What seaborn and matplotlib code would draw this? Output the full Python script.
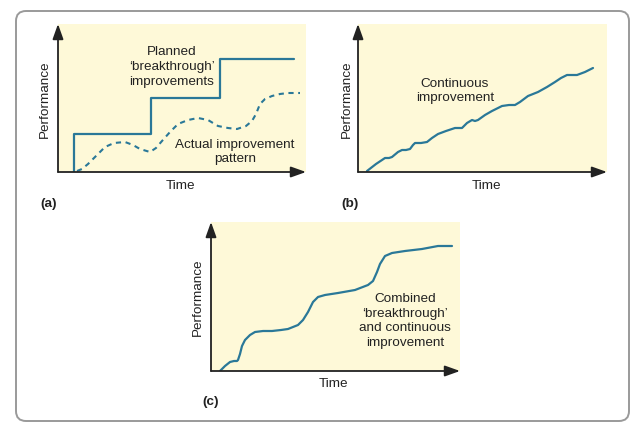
import matplotlib
matplotlib.use("Agg")
import matplotlib.pyplot as plt
from matplotlib.patches import FancyBboxPatch
import seaborn as sns

# ---------------- data ----------------
# (a) planned breakthrough steps
planned_time = [16, 16, 93, 162, 236]
planned_perf = [0, 38, 74, 113, 113]
# (a) actual improvement pattern
actual_time = [19, 24, 30, 38, 47, 56, 67, 75, 82, 92, 98, 104, 112, 120, 130, 140,
               150, 160, 170, 179, 188, 194, 198, 202, 207, 214, 222, 230, 242]
actual_perf = [1, 3, 8, 16, 25, 29, 30, 27, 23, 20, 24, 31, 40, 48, 52, 54,
               52, 46, 44, 43, 46, 51, 58, 68, 73, 76, 78, 79, 79]
# (b) continuous improvement
cont_time = [9, 18, 24, 27, 31, 34, 40, 44, 48, 52, 55, 57, 63, 69, 74, 80, 88, 97, 101,
             104, 109, 114, 117, 120, 127, 134, 144, 151, 157, 162, 170, 180, 189,
             197, 203, 209, 214, 219, 227, 235]
cont_perf = [1, 8, 12, 14, 14, 15, 20, 22, 22, 23, 27, 29, 29, 30, 34, 38, 41, 44, 44,
             44, 49, 52, 51, 52, 57, 61, 66, 67, 67, 70, 76, 80, 85,
             90, 94, 97, 97, 97, 100, 104]
# (c) combined
comb_time = [9, 14, 19, 23, 26, 27, 29, 31, 34, 39, 44, 52, 61, 70, 77, 87, 92, 97,
             102, 107, 114, 127, 144, 157, 162, 166, 169, 174, 181, 194, 211, 227, 241]
comb_perf = [0, 5, 9, 10, 10, 11, 17, 25, 31, 36, 39, 40, 40, 41, 42, 46, 51, 59,
             69, 74, 76, 78, 81, 86, 90, 99, 107, 115, 118, 120, 122, 125, 125]

# ---------------- style ----------------
sns.set_theme(style="white")
plt.rcParams["font.family"] = ["Liberation Sans", "DejaVu Sans"]

W, H = 637, 431
LINE = "#2a7898"
YELLOW = "#fef9d8"
AX = "#222222"
FS = 9.7
LS = 1.32

fig = plt.figure(figsize=(W / 100, H / 100), dpi=100)

# outer rounded frame
frame = FancyBboxPatch((0.16, 0.09), 6.13, 4.10,
                       boxstyle="round,pad=0,rounding_size=0.1",
                       transform=fig.dpi_scale_trans, fill=False,
                       edgecolor="#9a9a9a", linewidth=1.4)
fig.patches.append(frame)


def make_ax(x0, y0, x1, y1):
    ax = fig.add_axes([x0 / W, 1 - y1 / H, (x1 - x0) / W, (y1 - y0) / H])
    ax.set_facecolor(YELLOW)
    for s in ax.spines.values():
        s.set_visible(False)
    ax.set_xlim(0, x1 - x0)
    ax.set_ylim(0, y1 - y0)
    for xy in [(1.0, 0), (0, 1.0)]:
        ax.annotate("", xy=xy, xytext=(0, 0), xycoords="axes fraction",
                    arrowprops=dict(arrowstyle="-|>,head_length=0.7,head_width=0.25",
                                    color=AX, lw=1.3,
                                    mutation_scale=13, shrinkA=0, shrinkB=0),
                    annotation_clip=False)
    return ax


def finish(ax):
    ax.set_xlabel("")
    ax.set_ylabel("")
    ax.set_xticks([])
    ax.set_yticks([])


def ftext(x, y, s, **kw):
    kw.setdefault("fontsize", FS)
    kw.setdefault("color", "#222222")
    fig.text(x / W, 1 - y / H, s, **kw)


# ---------------- panel (a) ----------------
axa = make_ax(58, 25, 306, 173)
sns.lineplot(x=planned_time, y=planned_perf, ax=axa, color=LINE, lw=1.6,
             estimator=None, sort=False, drawstyle="steps-post")
sns.lineplot(x=actual_time, y=actual_perf, ax=axa, color=LINE, lw=1.5,
             estimator=None, sort=False)
axa.lines[-1].set_linestyle((0, (2.5, 2.2)))
finish(axa)

ftext(172, 67, "Planned\n\u2018breakthrough\u2019\nimprovements", ha="center",
      va="center", linespacing=LS)
ftext(235, 152, "Actual improvement\npattern", ha="center", va="center",
      linespacing=LS)
ftext(45, 99, "Performance", rotation=90, ha="center", va="center")
ftext(180, 186, "Time", ha="center", va="center")
ftext(40, 204, "(a)", ha="left", va="center", fontweight="bold")

# ---------------- panel (b) ----------------
axb = make_ax(358, 25, 607, 173)
sns.lineplot(x=cont_time, y=cont_perf, ax=axb, color=LINE, lw=1.6,
             estimator=None, sort=False)
finish(axb)

ftext(455, 91, "Continuous\nimprovement", ha="center", va="center",
      linespacing=LS)
ftext(347, 99, "Performance", rotation=90, ha="center", va="center")
ftext(486, 186, "Time", ha="center", va="center")
ftext(341, 204, "(b)", ha="left", va="center", fontweight="bold")

# ---------------- panel (c) ----------------
axc = make_ax(211, 223, 460, 372)
sns.lineplot(x=comb_time, y=comb_perf, ax=axc, color=LINE, lw=1.6,
             estimator=None, sort=False)
finish(axc)

ftext(405, 321, "Combined\n\u2018breakthrough\u2019\nand continuous\nimprovement",
      ha="center", va="center", linespacing=LS)
ftext(198, 297, "Performance", rotation=90, ha="center", va="center")
ftext(333, 384, "Time", ha="center", va="center")
ftext(202, 402, "(c)", ha="left", va="center", fontweight="bold")

fig.savefig("out.png", dpi=100, facecolor="white")
